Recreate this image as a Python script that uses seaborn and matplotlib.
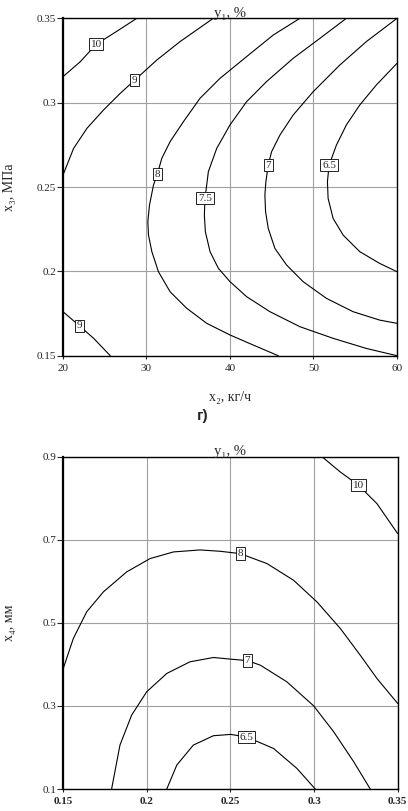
import numpy as np
import pandas as pd
import matplotlib
matplotlib.use("Agg")
import matplotlib.pyplot as plt
import seaborn as sns

# top panel: y1 isolines over x2 (kg/h) and x3 (MPa)
top_levels = ["10", "9", "8", "7.5", "7", "6.5", "9"]
top_x = [
    [20, 22.07, 23.98, 26.06, 28.84],
    [20, 21.27, 22.87, 24.86, 26.85, 28.6, 31.24, 34.02, 38.0],
    [48.37, 45.18, 41.99, 38.8, 36.41, 34.42, 32.83, 31.83, 31.31, 30.84, 30.36, 30.16,
     30.24, 30.64, 31.43, 32.83, 34.82, 37.21, 40.0, 42.79, 45.78],
    [53.94, 50.76, 47.57, 44.38, 41.99, 40.0, 38.41, 37.41, 37.01, 36.93, 37.05, 37.61,
     38.61, 40.0, 41.99, 44.78, 48.37, 52.35, 56.33, 60],
    [60, 56.33, 53.15, 49.96, 47.57, 45.98, 44.98, 44.58, 44.3, 44.18, 44.26, 44.58,
     45.38, 46.77, 48.76, 51.55, 54.74, 57.93, 60],
    [60, 57.53, 55.54, 53.94, 52.75, 51.87, 51.67, 51.75, 52.35, 53.55, 55.54, 57.93, 60],
    [20, 21.95, 23.67, 25.66],
]
top_y = [
    [0.3154, 0.3243, 0.3346, 0.3411, 0.35],
    [0.2571, 0.2729, 0.2848, 0.2957, 0.3055, 0.3134, 0.3253, 0.3362, 0.35],
    [0.35, 0.3401, 0.3273, 0.3144, 0.3026, 0.2887, 0.2769, 0.267, 0.2577, 0.2512, 0.2393,
     0.2294, 0.2215, 0.2117, 0.1998, 0.1879, 0.1781, 0.1692, 0.1623, 0.1563, 0.15],
    [0.35, 0.3381, 0.3263, 0.3125, 0.3006, 0.2868, 0.2729, 0.2591, 0.2433, 0.2334, 0.2235,
     0.2117, 0.2018, 0.1939, 0.185, 0.1761, 0.1672, 0.1603, 0.1543, 0.15],
    [0.35, 0.3362, 0.3223, 0.3065, 0.2927, 0.2808, 0.2709, 0.263, 0.2532, 0.2453, 0.2354,
     0.2255, 0.2136, 0.2038, 0.1939, 0.184, 0.1761, 0.1711, 0.1692],
    [0.3233, 0.3105, 0.2986, 0.2868, 0.2749, 0.263, 0.2532, 0.2433, 0.2314, 0.2215, 0.2117,
     0.2047, 0.1998],
    [0.1761, 0.1678, 0.1603, 0.15],
]
top_label_idx = [2, 5, 8, 8, 7, 5, 1]

# bottom panel: y1 isolines over x3 and x4 (mm)
bot_levels = ["10", "8", "7", "6.5"]
bot_x = [
    [0.3047, 0.3157, 0.3266, 0.3376, 0.35],
    [0.15, 0.156, 0.164, 0.174, 0.1879, 0.2019, 0.2159, 0.2318, 0.2438, 0.2558, 0.2718,
     0.2877, 0.3017, 0.3157, 0.3276, 0.3376, 0.35],
    [0.1789, 0.1839, 0.1909, 0.1999, 0.2119, 0.2258, 0.2398, 0.2502, 0.2602, 0.2678,
     0.2837, 0.2997, 0.3117, 0.3237, 0.3336],
    [0.2119, 0.2179, 0.2278, 0.2398, 0.2502, 0.2598, 0.2757, 0.2897, 0.3007],
]
bot_y = [
    [0.9, 0.8631, 0.8311, 0.787, 0.7148],
    [0.3902, 0.4623, 0.5265, 0.5746, 0.6226, 0.6547, 0.6707, 0.6755, 0.6723, 0.6667,
     0.6427, 0.6026, 0.5505, 0.4864, 0.4222, 0.3661, 0.306],
    [0.1, 0.2058, 0.278, 0.3341, 0.3782, 0.4062, 0.4166, 0.4126, 0.409, 0.3982, 0.3581,
     0.3004, 0.2379, 0.1657, 0.1],
    [0.1, 0.1577, 0.2058, 0.2283, 0.2315, 0.225, 0.1978, 0.1497, 0.1],
]
bot_label_idx = [2, 9, 8, 5]

top_xticks = [20, 30, 40, 50, 60]
top_yticks = [0.15, 0.2, 0.25, 0.3, 0.35]
bot_xticks = [0.15, 0.2, 0.25, 0.3, 0.35]
bot_yticks = [0.1, 0.3, 0.5, 0.7, 0.9]

sns.set_style("white")
plt.rcParams["font.family"] = ["Liberation Serif", "DejaVu Serif"]

fig = plt.figure(figsize=(4.08, 8.11), dpi=100)
ax1 = fig.add_axes([0.1544, 0.5614, 0.8186, 0.416])
ax2 = fig.add_axes([0.1551, 0.0271, 0.8196, 0.4098])


def draw_panel(ax, xs, ys, levels, label_idx):
    for cx, cy, lev, k in zip(xs, ys, levels, label_idx):
        df = pd.DataFrame({"x": cx, "y": cy})
        sns.lineplot(data=df, x="x", y="y", sort=False, estimator=None,
                     color="black", lw=0.8, ax=ax, zorder=3)
        ax.text(cx[k], cy[k], lev, ha="center", va="center", fontsize=8,
                zorder=5,
                bbox=dict(boxstyle="square,pad=0.15", fc="white", ec="black", lw=0.6))


def style_axes(ax, xticks, yticks):
    ax.set_xlim(xticks[0], xticks[-1])
    ax.set_ylim(yticks[0], yticks[-1])
    ax.set_xticks(xticks)
    ax.set_yticks(yticks)
    ax.set_xticklabels([f"{t:g}" for t in xticks])
    ax.set_yticklabels([f"{t:g}" for t in yticks])
    ax.grid(True, color="#a0a0a0", lw=0.8)
    ax.set_axisbelow(True)
    for s in ax.spines.values():
        s.set_color("black")
        s.set_linewidth(1.0)
        s.set_visible(True)
    ax.spines["left"].set_linewidth(1.6)
    ax.tick_params(axis="y", left=True, direction="out", length=4, width=0.8,
                   labelsize=8, pad=1)
    ax.tick_params(axis="x", bottom=True, direction="out", length=2, width=0.8,
                   labelsize=8, pad=4)
    ax.set_title("y\u2081, %", fontsize=10.5, pad=1)


draw_panel(ax1, top_x, top_y, top_levels, top_label_idx)
style_axes(ax1, top_xticks, top_yticks)
ax1.set_xlabel("x\u2082, кг/ч", fontsize=10)
ax1.xaxis.set_label_coords(0.5, -0.105)
ax1.set_ylabel("x\u2083, МПа", fontsize=10)
ax1.yaxis.set_label_coords(-0.14, 0.5)

draw_panel(ax2, bot_x, bot_y, bot_levels, bot_label_idx)
style_axes(ax2, bot_xticks, bot_yticks)
ax2.set_xlabel("")
ax2.set_ylabel("x\u2084, мм", fontsize=10)
ax2.yaxis.set_label_coords(-0.14, 0.5)
for t in ax2.get_xticklabels():
    t.set_fontweight("bold")

fig.text(0.496, 1 - 416 / 811, "г)", ha="center", va="center", fontsize=11,
         fontweight="bold", family=["Liberation Sans", "DejaVu Sans"])

fig.savefig("out.png", dpi=100)
